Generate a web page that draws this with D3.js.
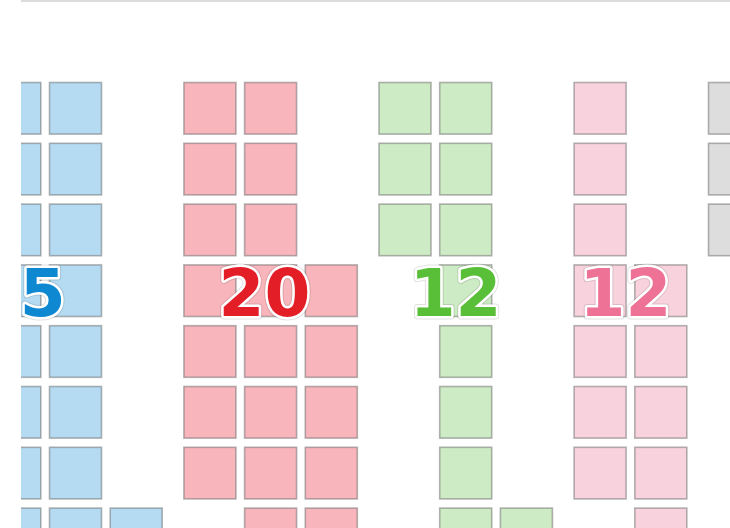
<!DOCTYPE html>
<html>
<head>
<meta charset="utf-8">
<script src="https://cdn.jsdelivr.net/npm/d3@7/dist/d3.min.js"></script>
<style>
  html, body { margin: 0; padding: 0; background: #ffffff; }
  svg { display: block; }
</style>
</head>
<body>
<svg id="chart" width="730" height="528"></svg>
<script>
// ---- data ----
const categories = ["Blue", "Red", "Green", "Pink", "Gray"];
const values = [25, 20, 12, 12, 11];
// each group's columns: [first row, last row] of filled units
const blueCols  = [[0, 7], [0, 7], [0, 7], [7, 7]];
const redCols   = [[0, 6], [0, 7], [3, 7]];
const greenCols = [[0, 2], [0, 7], [7, 7]];
const pinkCols  = [[0, 6], [3, 7]];
const grayCols  = [[0, 2], [0, 7]];
const fillColors = ["#b4dbf2", "#f8b5bb", "#cdebc4", "#f8d3dd", "#dddddd"];
const textColors = ["#0f88d2", "#e41e27", "#5abf38", "#ee7196", "#cfcfcf"];

const groupCols = [blueCols, redCols, greenCols, pinkCols, grayCols];
const nRows = 8;

// ---- layout ----
const W = 730, H = 528;
const clipLeft = 21;
const colPitch = 60.7, groupGap = 13, cell = 53, rowPitch = 60.8, rowCell = 52.6, topY = 82;
const svg = d3.select("#chart");

const defs = svg.append("defs");
defs.append("clipPath").attr("id", "crop")
  .append("rect").attr("x", clipLeft).attr("y", 0).attr("width", W - clipLeft).attr("height", H);

// build units through scales
const units = [];
let gIndex = 0;
groupCols.forEach((cols, g) => {
  cols.forEach((span, c) => {
    for (let r = span[0]; r <= span[1]; r++) {
      units.push({ group: g, col: gIndex, row: r });
    }
    gIndex++;
  });
});
const totalCols = gIndex;

const xCol = d3.scaleLinear().domain([0, totalCols]).range([-72.4, -72.4 + totalCols * colPitch]);
const xGroup = d3.scaleLinear().domain([0, categories.length]).range([0, categories.length * groupGap]);
const y = d3.scaleBand().domain(d3.range(nRows))
  .range([topY, topY + (nRows - 1) * rowPitch + rowCell])
  .paddingInner((rowPitch - rowCell) / rowPitch).paddingOuter(0).align(0);
const colour = d3.scaleOrdinal().domain(d3.range(categories.length)).range(fillColors);
const tColour = d3.scaleOrdinal().domain(d3.range(categories.length)).range(textColors);

const ux = d => xCol(d.col) + xGroup(d.group);

const root = svg.append("g").attr("clip-path", "url(#crop)");

// top rule
root.append("line")
  .attr("x1", clipLeft).attr("x2", W).attr("y1", 1).attr("y2", 1)
  .attr("stroke", "#dcdcdc").attr("stroke-width", 2);

root.append("g").selectAll("rect").data(units).join("rect")
  .attr("x", d => ux(d) + 0.5)
  .attr("y", d => y(d.row) + 0.5)
  .attr("width", cell - 1)
  .attr("height", y.bandwidth() - 1)
  .attr("fill", d => colour(d.group))
  .attr("stroke", "rgba(105,105,105,0.5)")
  .attr("stroke-width", 1.6);

// labels at the centroid of each group's units
const fs = 66;
const labelData = categories.map((c, g) => {
  const us = units.filter(u => u.group === g);
  return { g, value: values[g], cx: d3.mean(us, u => ux(u) + cell / 2) };
});
const labelY = y(3) + y.bandwidth() / 2 + 0.729 * fs / 2 + 1;

const lab = root.append("g")
  .attr("font-family", "DejaVu Sans, sans-serif")
  .attr("font-weight", "bold")
  .attr("font-size", fs)
  .attr("text-anchor", "middle");

lab.selectAll("text.shadow").data(labelData).join("text")
  .attr("class", "shadow")
  .attr("x", d => d.cx).attr("y", labelY)
  .attr("fill", "none")
  .attr("stroke", "rgba(0,0,0,0.12)")
  .attr("stroke-width", 7)
  .attr("stroke-linejoin", "round")
  .text(d => d.value);

lab.selectAll("text.lbl").data(labelData).join("text")
  .attr("class", "lbl")
  .attr("x", d => d.cx).attr("y", labelY)
  .attr("fill", d => tColour(d.g))
  .attr("stroke", "#ffffff")
  .attr("stroke-width", 5)
  .attr("stroke-linejoin", "round")
  .attr("paint-order", "stroke")
  .text(d => d.value);
</script>
</body>
</html>
